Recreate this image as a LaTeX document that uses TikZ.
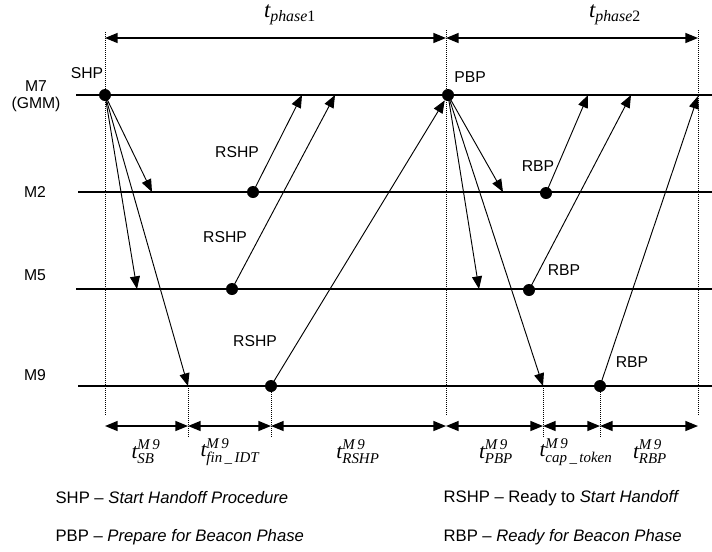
\documentclass[tikz,border=0pt]{standalone}
\usepackage{amsmath}
\usepackage{fontspec}
\setmainfont{Liberation Sans}
\newfontfamily\tms{Liberation Serif}
\usetikzlibrary{arrows.meta}

\newcommand{\tlab}[2]{$\text{\tms\itshape t}^{\text{\tms\itshape #2}}_{\text{\tms\itshape #1}}$}

\begin{document}
\begin{tikzpicture}[x=0.75pt, y=-0.75pt, >={Triangle[length=9.5pt, width=7.5pt]},
  lane/.style={line width=2.2pt},
  msg/.style={line width=0.7pt, ->},
  dot/.style={circle, fill=black, inner sep=0pt, minimum size=9pt},
  guide/.style={densely dotted, line width=0.5pt},
  span/.style={line width=1.1pt, <->},
  lbl/.style={font=\fontsize{11.8pt}{13pt}\selectfont, inner sep=1pt},
  legend/.style={font=\fontsize{12.5pt}{14pt}\selectfont, inner sep=1pt, anchor=west},
  plbl/.style={font=\fontsize{17pt}{19pt}\selectfont, inner sep=1pt},
  tlbl/.style={font=\fontsize{16pt}{18pt}\selectfont, inner sep=1pt}
]
\useasboundingbox (0,0) rectangle (712,551);

% Station lanes
\draw[lane] (76,95) -- (712,95);
\draw[lane] (78,192) -- (712,192);
\draw[lane] (76,289) -- (712,289);
\draw[lane] (78,386) -- (712,386);

\node[lbl, align=center] (m7) at (36,96) {M7\\(GMM)};
\node[lbl] (m2) at (35,192) {M2};
\node[lbl] (m5) at (35,275) {M5};
\node[lbl] (m9) at (35,375) {M9};

% Phase guides
\draw[guide] (105,32) -- (105,415);
\draw[guide] (446,30) -- (446,415);
\draw[guide] (698,30) -- (698,415);
\draw[guide] (188,386) -- (188,437);
\draw[guide] (271,386) -- (271,437);
\draw[guide] (543,386) -- (543,437);
\draw[guide] (600,386) -- (600,437);

% Phase spans
\coordinate (p0) at (105,38);
\coordinate (p1) at (446,38);
\coordinate (p2) at (698,38);
\draw[span] (p0) -- (p1);
\draw[span] (p1) -- (p2);
\node[plbl] (ph1) at (290,15) {$\text{\tms\itshape t}_{\text{\tms\itshape phase\upshape 1}}$};
\node[plbl] (ph2) at (615,15) {$\text{\tms\itshape t}_{\text{\tms\itshape phase\upshape 2}}$};

% Events
\node[dot] (shp) at (105,95) {};
\node[dot] (rshp2) at (253,192) {};
\node[dot] (rshp5) at (232,289) {};
\node[dot] (rshp9) at (271,386) {};
\node[dot] (pbp) at (448,95) {};
\node[dot] (rbp2) at (546,193) {};
\node[dot] (rbp5) at (529,290) {};
\node[dot] (rbp9) at (600,386) {};

\node[lbl] at (87,73) {SHP};
\node[lbl] at (470,77) {PBP};
\node[lbl] at (237,152) {RSHP};
\node[lbl] at (225,237) {RSHP};
\node[lbl] at (255,341) {RSHP};
\node[lbl] at (538,166) {RBP};
\node[lbl] at (564,270) {RBP};
\node[lbl] at (632,362) {RBP};

% Start handoff
\coordinate (s2) at (152,192);
\coordinate (s5) at (137,289);
\coordinate (s9) at (188,386);
\draw[msg] (shp.center) -- (s2);
\draw[msg] (shp.center) -- (s5);
\draw[msg] (shp.center) -- (s9);

% Ready to start handoff
\coordinate (r2) at (302,95);
\coordinate (r5) at (335,95);
\draw[msg] (rshp2.center) -- (r2);
\draw[msg] (rshp5.center) -- (r5);
\draw[msg] (rshp9.center) -- (pbp);

% Prepare for beacon phase
\coordinate (b2) at (503,192);
\coordinate (b5) at (479,289);
\coordinate (b9) at (543,386);
\draw[msg] (pbp.center) -- (b2);
\draw[msg] (pbp.center) -- (b5);
\draw[msg] (pbp.center) -- (b9);

% Ready for beacon phase
\coordinate (q2) at (588,95);
\coordinate (q5) at (631,95);
\coordinate (q9) at (698,96);
\draw[msg] (rbp2.center) -- (q2);
\draw[msg] (rbp5.center) -- (q5);
\draw[msg] (rbp9.center) -- (q9);

% M9 timing
\coordinate (d0) at (105,426);
\coordinate (d1) at (188,426);
\coordinate (d2) at (271,426);
\coordinate (d3) at (446,426);
\coordinate (d4) at (543,426);
\coordinate (d5) at (600,426);
\coordinate (d6) at (698,426);
\draw[span] (d0) -- (d1);
\draw[span] (d1) -- (d2);
\draw[span] (d2) -- (d3);
\draw[span] (d3) -- (d4);
\draw[span] (d4) -- (d5);
\draw[span] (d5) -- (d6);
\node[tlbl] (tsb) at (146,452) {\tlab{SB}{M\,9}};
\node[tlbl] (tfin) at (230,452) {\tlab{fin\,\_\,IDT}{M\,9}};
\node[tlbl] (trshp) at (358,452) {\tlab{RSHP}{M\,9}};
\node[tlbl] (tpbp) at (496,452) {\tlab{PBP}{M\,9}};
\node[tlbl] (tcap) at (576,452) {\tlab{cap\,\_\,token}{M\,9}};
\node[tlbl] (trbp) at (650,452) {\tlab{RBP}{M\,9}};

% Legend
\node[legend] (leg1) at (54,498) {SHP -- \textit{Start Handoff Procedure}};
\node[legend] (leg2) at (54,537) {PBP -- \textit{Prepare for Beacon Phase}};
\node[legend] (leg3) at (442,498) {RSHP -- Ready to \textit{Start Handoff}};
\node[legend] (leg4) at (442,537) {RBP -- \textit{Ready for Beacon Phase}};
\end{tikzpicture}
\end{document}
